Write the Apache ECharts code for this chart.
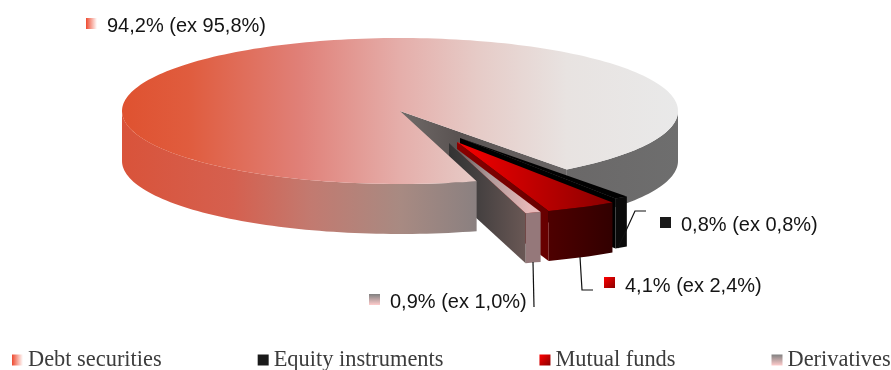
<!DOCTYPE html>
<html>
<head>
<meta charset="utf-8">
<style>html,body{margin:0;padding:0;background:#fff}#chart{width:891px;height:370px}</style>
<script src="https://cdn.jsdelivr.net/npm/echarts@6/dist/echarts.min.js"></script>
</head>
<body>
<div id="chart"></div>
<script>
// Portfolio composition, current share and prior-period share in percent
const categories = ['Debt securities', 'Equity instruments', 'Mutual funds', 'Derivatives'];
const shares = [94.2, 0.8, 4.1, 0.9];
const priorShares = [95.8, 0.8, 2.4, 1.0];

// Pie projection: an ellipse with a visible rim
const CX = 400, CY = 111, RX = 278, RY = 73, DEPTH = 50;
const START_ANGLE = 74;
const explodeX = [0, 60, 57, 49];
const explodeY = [0, 27, 31, 32];

const hGrad = (x0, x1, stops) => ({
  type: 'linear', global: true, x: x0, y: 0, x2: x1, y2: 0,
  colorStops: stops.map(s => ({ offset: s[0], color: s[1] }))
});
const boxGrad = (x2, y2, a, b) => ({
  type: 'linear', x: 0, y: 0, x2, y2,
  colorStops: [{ offset: 0, color: a }, { offset: 1, color: b }]
});

const topFills = [
  hGrad(122, 678, [[0, '#df5230'], [0.12, '#e05c3e'], [0.32, '#e08078'], [0.5, '#e5aeaa'], [0.64, '#e6cbc7'], [0.8, '#e8e3e1'], [1, '#e9e9e9']]),
  '#020202',
  hGrad(458, 612, [[0, '#f80000'], [0.3, '#d40000'], [1, '#8a0000']]),
  hGrad(449, 530, [[0, '#4a4a4a'], [0.5, '#b09a9a'], [1, '#e8b8b8']])
];
const rimFills = [
  hGrad(122, 678, [[0, '#d9533a'], [0.2, '#d5604f'], [0.34, '#c27a70'], [0.5, '#a88a82'], [0.64, '#8a8080'], [0.8, '#6a6868'], [1, '#6e6e6e']]),
  '#0a0a0a',
  hGrad(548, 612, [[0, '#4e0000'], [1, '#320000']]),
  '#95787a'
];
const wallFills = [
  hGrad(400, 565, [[0, '#706a68'], [0.35, '#5a5352'], [1, '#6a6666']]),
  '#000000',
  hGrad(457, 548, [[0, '#8a0000'], [1, '#660000']]),
  hGrad(449, 526, [[0, '#333333'], [0.4, '#464141'], [1, '#6a5855']])
];
const swatches = [
  boxGrad(1, 0, '#ee4a30', '#ffffff'),
  '#1a1a1a',
  boxGrad(1, 1, '#ff0000', '#8a0000'),
  boxGrad(0, 1, '#808080', '#ffcccc')
];

// Callout text, swatch and leader line for each slice
const calloutX = [107, 681, 625, 390];
const calloutY = [26, 225, 286, 302];
const swatchX = [86, 660, 604, 369];
const swatchY = [18, 217, 277, 294];
const leaders = [
  [],
  [[646, 211], [635, 211], [618, 248]],
  [[580, 257], [582, 290], [593, 290]],
  [[533, 262], [534, 307]]
];

const pct = v => v.toFixed(1).replace('.', ',') + '%';
const rad = d => d * Math.PI / 180;

function arc(from, to, ox, oy) {
  const pts = [];
  const n = Math.max(2, Math.ceil(Math.abs(to - from) / 1.5));
  for (let i = 0; i <= n; i++) {
    const t = rad(from + (to - from) * i / n);
    pts.push([CX + ox + RX * Math.cos(t), CY + oy + RY * Math.sin(t)]);
  }
  return pts;
}
const poly = (points, fill, z2) => ({ type: 'polygon', z2, shape: { points }, style: { fill } });

function sliceBounds(index) {
  let start = START_ANGLE;
  for (let i = 0; i < index; i++) start += shares[i] * 3.6;
  return [start, start + shares[index] * 3.6];
}

function renderSlice(params, api) {
  const i = params.seriesIndex;
  const value = api.value(0);
  const [s] = sliceBounds(i);
  const e = s + value * 3.6;
  const ox = explodeX[i], oy = explodeY[i];
  const base = i === 0 ? 60 : 10 + i * 10;     // exploded slices sit between the pie's back and front
  const apex = [CX + ox, CY + oy];
  const kids = [];

  // Visible rim: the parts of the sweep on the near half of the ellipse
  [[0, 180], [360, 540]].forEach(w => {
    const a = Math.max(s, w[0]), b = Math.min(e, w[1]);
    if (a < b) {
      const top = arc(a, b, ox, oy);
      const bottom = arc(b, a, ox, oy + DEPTH);
      const z = i === 0 && w[0] === 360 ? 2 : base + 1;
      kids.push(poly(top.concat(bottom), rimFills[i], z));
    }
  });

  // Cut face that turns toward the viewer
  const edgeAngle = Math.cos(rad(e)) > 0 ? e : (Math.cos(rad(s)) < 0 ? s : null);
  if (edgeAngle !== null) {
    const p = arc(edgeAngle, edgeAngle, ox, oy)[0];
    const z = i === 0 ? 1 : base + 2;
    kids.push(poly([apex, p, [p[0], p[1] + DEPTH], [apex[0], apex[1] + DEPTH]], wallFills[i], z));
  }

  // Top surface
  kids.push(poly([apex].concat(arc(s, e, ox, oy)), topFills[i], base + 3));

  // Callout
  kids.push({
    type: 'rect', z2: 200,
    shape: { x: swatchX[i], y: swatchY[i], width: 11, height: 11 },
    style: { fill: swatches[i] }
  });
  kids.push({
    type: 'text', z2: 200, x: calloutX[i], y: calloutY[i],
    style: {
      text: pct(value) + ' (ex ' + pct(priorShares[i]) + ')',
      font: '20px "Liberation Sans", Arial, sans-serif',
      fill: '#141414', textAlign: 'left', textVerticalAlign: 'middle'
    }
  });
  if (leaders[i].length) {
    kids.push({
      type: 'polyline', z2: 200, shape: { points: leaders[i] },
      style: { stroke: '#111111', lineWidth: 1.2, fill: 'none' }
    });
  }
  return { type: 'group', children: kids };
}

const chart = echarts.init(document.getElementById('chart'), null, { renderer: 'canvas' });
chart.setOption({
  animation: false,
  backgroundColor: '#ffffff',
  legend: {
    left: 12, bottom: -1, padding: 0,
    width: 879,
    itemWidth: 11, itemHeight: 11, itemGap: 96,
    icon: 'rect',
    textStyle: { fontFamily: '"Liberation Serif", "Times New Roman", serif', fontSize: 22.4, color: '#3c3c3c', padding: [0, 0, 0, 0] },
    data: categories.map((name, i) => ({ name, itemStyle: { color: swatches[i] } }))
  },
  series: categories.map((name, i) => ({
    type: 'custom',
    name,
    coordinateSystem: 'none',
    renderItem: renderSlice,
    silent: true,
    data: [[shares[i]]]
  }))
});
</script>
</body>
</html>
